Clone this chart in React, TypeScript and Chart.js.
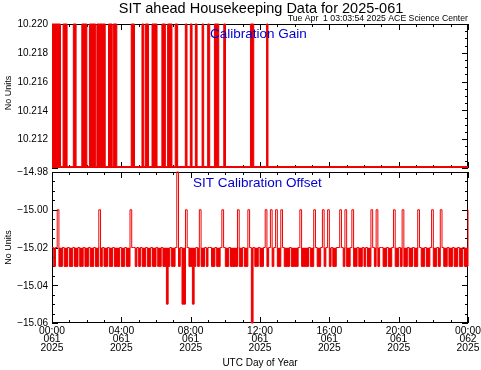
import React, { useEffect, useRef } from 'react';
import { Chart, registerables } from 'chart.js';

Chart.register(...registerables);

const W = 481;
const H = 370;
const RED = 'rgb(238,0,0)';
const BLUE = 'rgb(0,0,210)';
const FONT = '"Liberation Sans", Arial, sans-serif';

// ---- texts ----
const titleText = 'SIT ahead Housekeeping Data for 2025-061';
const stampText = 'Tue Apr  1 03:03:54 2025 ACE Science Center';
const gainLabel = 'Calibration Gain';
const offsetLabel = 'SIT Calibration Offset';
const yAxisTitle = 'No Units';
const xAxisTitle = 'UTC Day of Year';

// ---- x axis (hours of day 061) ----
const xTickHours = [0, 4, 8, 12, 16, 20, 24];
const xTickTimes = ['00:00', '04:00', '08:00', '12:00', '16:00', '20:00', '00:00'];
const xTickDays = ['061', '061', '061', '061', '061', '061', '062'];
const xTickYears = ['2025', '2025', '2025', '2025', '2025', '2025', '2025'];

// ---- y axes ----
const gainRange = [10.21, 10.22];
const gainTickValues = [10.212, 10.214, 10.216, 10.218, 10.22];
const gainTickLabels = ['10.212', '10.214', '10.216', '10.218', '10.220'];
const offsetRange = [-15.06, -14.98];
const offsetTickValues = [-15.06, -15.04, -15.02, -15.0, -14.98];
const offsetTickLabels = ['\u221215.06', '\u221215.04', '\u221215.02', '\u221215.00', '\u221214.98'];

// ---- Calibration Gain: intervals (hours) where the gain sits at the high level ----
const gainHigh = 10.22;
const gainLow = 10.2101;
const gainHighStart = [0.0, 0.64, 1.23, 1.72, 2.16, 2.59, 3.26, 3.53, 4.57, 5.19, 5.38, 5.77, 6.34, 6.67, 7.11, 7.69, 7.98, 8.27, 8.66, 8.98, 9.37, 9.91, 11.45, 12.38];
const gainHighEnd = [0.49, 0.87, 1.39, 2.01, 2.52, 3.07, 3.47, 3.74, 4.76, 5.29, 5.57, 6.06, 6.54, 6.92, 7.25, 7.79, 8.08, 8.37, 8.75, 9.1, 9.62, 10.01, 11.64, 12.46];

// ---- SIT Calibration Offset: samples every 0.1 h from 00:00 ----
const offsetBaseline = -15.02;
const offsetStepHours = 0.1;
const offsetValues = [
  -15.02, -15.03, -15.02, -15.0, -15.03, -15.03, -15.02, -15.03, -15.03, -15.02, // 00h
  -15.03, -15.03, -15.02, -15.03, -15.03, -15.02, -15.03, -15.03, -15.02, -15.03, // 01h
  -15.03, -15.02, -15.03, -15.03, -15.02, -15.03, -15.03, -15.0, -15.03, -15.02, // 02h
  -15.03, -15.03, -15.02, -15.03, -15.03, -15.02, -15.03, -15.03, -15.03, -15.02, // 03h
  -15.03, -15.03, -15.02, -15.03, -15.03, -15.0, -15.02, -15.02, -15.03, -15.02, // 04h
  -15.03, -15.02, -15.03, -15.03, -15.02, -15.03, -15.03, -15.02, -15.03, -15.03, // 05h
  -15.02, -15.03, -15.03, -15.02, -15.03, -15.03, -15.05, -15.03, -15.02, -15.03, // 06h
  -15.03, -15.02, -14.98, -15.03, -15.02, -15.05, -15.05, -15.0, -15.02, -15.03, // 07h
  -15.03, -15.05, -15.03, -15.02, -15.03, -15.0, -15.03, -15.03, -15.02, -15.03, // 08h
  -15.02, -15.02, -15.03, -15.03, -15.02, -15.03, -15.03, -15.02, -15.0, -15.02, // 09h
  -15.03, -15.03, -15.02, -15.03, -15.03, -15.03, -15.03, -15.0, -15.03, -15.03, // 10h
  -15.02, -15.03, -15.03, -15.0, -15.02, -15.06, -15.02, -15.03, -15.03, -15.02, // 11h
  -15.03, -15.03, -15.02, -15.0, -15.03, -15.02, -15.0, -15.03, -15.02, -15.0, // 12h
  -15.03, -15.03, -15.0, -15.02, -15.03, -15.03, -15.03, -15.02, -15.03, -15.03, // 13h
  -15.03, -15.03, -15.02, -15.0, -15.03, -15.03, -15.03, -15.03, -15.02, -15.03, // 14h
  -15.03, -15.0, -15.02, -15.03, -15.03, -15.02, -15.0, -15.03, -15.02, -15.0, // 15h
  -15.03, -15.02, -15.03, -15.03, -15.02, -15.02, -15.0, -15.02, -15.03, -15.0, // 16h
  -15.03, -15.03, -15.02, -15.0, -15.03, -15.03, -15.02, -15.03, -15.03, -15.02, // 17h
  -15.03, -15.02, -15.03, -15.03, -15.0, -15.02, -15.03, -15.0, -15.03, -15.02, // 18h
  -15.02, -15.03, -15.03, -15.02, -15.03, -15.03, -15.02, -15.0, -15.03, -15.03, // 19h
  -15.02, -15.03, -15.0, -15.03, -15.03, -15.02, -15.03, -15.03, -15.02, -15.03, // 20h
  -15.03, -15.0, -15.02, -15.03, -15.03, -15.02, -15.03, -15.03, -15.02, -15.0, // 21h
  -15.03, -15.03, -15.02, -15.03, -15.0, -15.02, -15.03, -15.03, -15.02, -15.03, // 22h
  -15.03, -15.02, -15.03, -15.03, -15.02, -15.03, -15.03, -15.02, -15.03, -15.03, // 23h
  -15.0, // 24h
];

// ---- layout (plot frames in pixels) ----
const PLOT_LEFT = 52;
const PLOT_RIGHT = 468;
const TOP_PANEL = { top: 24, bottom: 168 };
const BOTTOM_PANEL = { top: 172, bottom: 323 };

function font(size: number) {
  return `${size}px ${FONT}`;
}

type DecoOpts = {
  yMinorStep: number;
  yMajorStep: number;
  yRange: number[];
  tickValues: number[];
  tickLabels: string[];
  panelLabel: string;
  panelLabelX: number;
  panelLabelY: number;
  yTitleY: number;
  isBottom: boolean;
};

function makeDeco(o: DecoOpts) {
  return {
    id: 'idlDeco',
    beforeDatasetsDraw(chart: any) {
      const { ctx, chartArea: a, scales } = chart;
      const xs = scales.x;
      const ys = scales.y;
      ctx.save();
      ctx.strokeStyle = '#000';
      ctx.lineWidth = 1;
      ctx.strokeRect(a.left + 0.5, a.top + 0.5, a.right - a.left - 1, a.bottom - a.top - 1);
      ctx.beginPath();
      for (let h = 0; h <= 24; h += 1) {
        const px = Math.round(xs.getPixelForValue(h)) + 0.5;
        const len = h % 4 === 0 ? 6 : 3;
        ctx.moveTo(px, a.bottom);
        ctx.lineTo(px, a.bottom - len);
        ctx.moveTo(px, a.top);
        ctx.lineTo(px, a.top + len);
      }
      const n = Math.round((o.yRange[1] - o.yRange[0]) / o.yMinorStep);
      const per = Math.round(o.yMajorStep / o.yMinorStep);
      for (let i = 0; i <= n; i++) {
        const v = o.yRange[0] + i * o.yMinorStep;
        const py = Math.round(ys.getPixelForValue(v)) + 0.5;
        const len = i % per === 0 ? 6 : 3;
        ctx.moveTo(a.left, py);
        ctx.lineTo(a.left + len, py);
        ctx.moveTo(a.right, py);
        ctx.lineTo(a.right - len, py);
      }
      ctx.stroke();
      ctx.restore();
    },
    afterDatasetsDraw(chart: any) {
      const { ctx, chartArea: a, scales } = chart;
      const xs = scales.x;
      const ys = scales.y;
      ctx.save();
      ctx.fillStyle = '#000';
      ctx.font = font(10);
      ctx.textAlign = 'right';
      ctx.textBaseline = 'middle';
      o.tickValues.forEach((v, i) => {
        ctx.fillText(o.tickLabels[i], a.left - 4, ys.getPixelForValue(v) + 0.5);
      });
      ctx.save();
      ctx.translate(11, o.yTitleY);
      ctx.rotate(-Math.PI / 2);
      ctx.font = font(9);
      ctx.textAlign = 'center';
      ctx.textBaseline = 'alphabetic';
      ctx.fillText(yAxisTitle, 0, 0);
      ctx.restore();
      ctx.fillStyle = BLUE;
      ctx.font = font(13.5);
      ctx.textAlign = 'left';
      ctx.textBaseline = 'alphabetic';
      ctx.fillText(o.panelLabel, o.panelLabelX, o.panelLabelY);
      ctx.fillStyle = '#000';
      if (!o.isBottom) {
        ctx.font = font(14.5);
        ctx.textAlign = 'center';
        ctx.fillText(titleText, 261, 13);
        ctx.font = font(8.7);
        ctx.textAlign = 'right';
        ctx.fillText(stampText, 468, 21);
      } else {
        ctx.font = font(10.3);
        ctx.textAlign = 'center';
        xTickHours.forEach((h, i) => {
          const px = xs.getPixelForValue(h);
          ctx.fillText(xTickTimes[i], px, a.bottom + 10.5);
          ctx.fillText(xTickDays[i], px, a.bottom + 19);
          ctx.fillText(xTickYears[i], px, a.bottom + 27.5);
        });
        ctx.font = font(10);
        ctx.fillText(xAxisTitle, 260, 366);
      }
      ctx.restore();
    },
  };
}

function buildGainPoints() {
  const pts: { x: number; y: number }[] = [];
  gainHighStart.forEach((s, i) => {
    pts.push({ x: s, y: gainHigh });
    pts.push({ x: gainHighEnd[i], y: gainLow });
  });
  pts.push({ x: 24, y: gainLow });
  return pts;
}

function buildOffsetPoints() {
  return offsetValues.map((v, i) => ({ x: i * offsetStepHours, y: v }));
}

function baseOptions(panel: { top: number; bottom: number }, yRange: number[]) {
  return {
    animation: false as const,
    responsive: false,
    events: [] as any[],
    layout: {
      padding: {
        left: PLOT_LEFT,
        right: W - PLOT_RIGHT,
        top: panel.top,
        bottom: H - panel.bottom,
      },
    },
    scales: {
      x: { type: 'linear' as const, min: 0, max: 24, display: false },
      y: { type: 'linear' as const, min: yRange[0], max: yRange[1], display: false },
    },
    plugins: {
      legend: { display: false },
      tooltip: { enabled: false },
      title: { display: false },
      filler: { propagate: false, drawTime: 'beforeDatasetDraw' },
    },
  };
}

export default function App() {
  const topRef = useRef<HTMLCanvasElement>(null);
  const botRef = useRef<HTMLCanvasElement>(null);

  useEffect(() => {
    const top = new Chart(topRef.current as HTMLCanvasElement, {
      type: 'line',
      data: {
        datasets: [
          {
            data: buildGainPoints(),
            stepped: true,
            borderColor: RED,
            backgroundColor: RED,
            borderWidth: 1,
            pointRadius: 0,
            fill: 'start',
            clip: 3,
          },
        ],
      },
      options: baseOptions(TOP_PANEL, gainRange) as any,
      plugins: [
        makeDeco({
          yMinorStep: 0.0005,
          yMajorStep: 0.002,
          yRange: gainRange,
          tickValues: gainTickValues,
          tickLabels: gainTickLabels,
          panelLabel: gainLabel,
          panelLabelX: 210,
          panelLabelY: 37.5,
          yTitleY: 93,
          isBottom: false,
        }),
      ],
    } as any);
    const bot = new Chart(botRef.current as HTMLCanvasElement, {
      type: 'line',
      data: {
        datasets: [
          {
            data: buildOffsetPoints(),
            stepped: true,
            borderColor: RED,
            backgroundColor: RED,
            borderWidth: 1,
            pointRadius: 0,
            fill: { target: { value: offsetBaseline }, above: 'rgba(0,0,0,0)', below: RED },
            clip: 3,
          },
        ],
      },
      options: baseOptions(BOTTOM_PANEL, offsetRange) as any,
      plugins: [
        makeDeco({
          yMinorStep: 0.005,
          yMajorStep: 0.02,
          yRange: offsetRange,
          tickValues: offsetTickValues,
          tickLabels: offsetTickLabels,
          panelLabel: offsetLabel,
          panelLabelX: 193,
          panelLabelY: 186.5,
          yTitleY: 247.5,
          isBottom: true,
        }),
      ],
    } as any);
    return () => {
      top.destroy();
      bot.destroy();
    };
  }, []);

  const cstyle: React.CSSProperties = { position: 'absolute', left: 0, top: 0, width: W, height: H };
  return (
    <div style={{ position: 'fixed', left: 0, top: 0, width: W, height: H, background: '#fff' }}>
      <canvas ref={topRef} width={W} height={H} style={cstyle} />
      <canvas ref={botRef} width={W} height={H} style={cstyle} />
    </div>
  );
}
